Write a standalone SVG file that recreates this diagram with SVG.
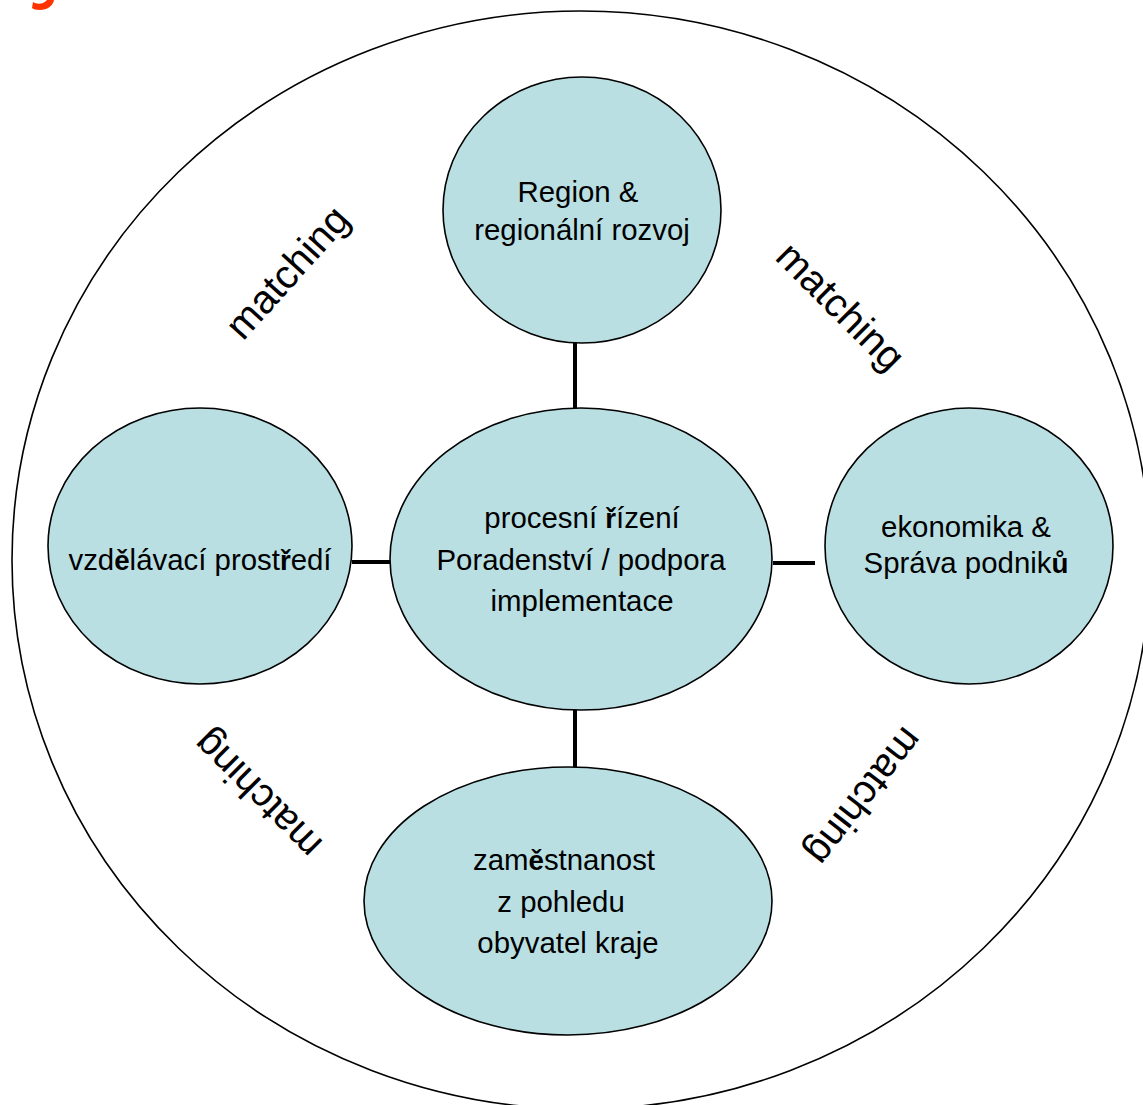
<svg xmlns="http://www.w3.org/2000/svg" width="1143" height="1105" viewBox="0 0 1143 1105">
<style>
.node{fill:#B9DFE3;stroke:#000;stroke-width:1.6}
.outer{fill:none;stroke:#000;stroke-width:1.6}
.conn line{stroke:#000;stroke-width:4}
.t{font-family:"Liberation Sans Narrow","Arial Narrow","Liberation Sans",Arial,sans-serif;font-size:35px;fill:#000;text-anchor:middle}
.b{font-family:"Liberation Sans",Arial,sans-serif;font-weight:bold;font-size:33px}
.m{font-family:"Liberation Sans",Arial,sans-serif;font-size:40px;fill:#000;text-anchor:middle}
</style>
<rect width="1143" height="1105" fill="#fff"/>
<path d="M47 0 L54 0 C53 6 47 10 40 10 C36 10 33 9 32 8 L33 2 C36 4 40 4 43 3 C45 2 46 1 47 0 Z" fill="#FF3300"/>
<ellipse class="outer" cx="581" cy="560" rx="569" ry="549"/>
<g id="connectors" class="conn">
<line x1="575" y1="342" x2="575" y2="409"/>
<line x1="352" y1="562" x2="391" y2="562"/>
<line x1="773" y1="563" x2="815" y2="563"/>
<line x1="575" y1="709" x2="575" y2="767"/>
</g>
<g id="node-region">
<ellipse class="node" cx="582" cy="210" rx="139" ry="133"/>
<text class="t" transform="matrix(0.84 0 0 0.85 0 0)"><tspan x="688.1" y="237.6">Region &amp;</tspan><tspan x="692.9" y="282.4">regionální rozvoj</tspan></text>
</g>
<g id="node-center">
<ellipse class="node" cx="581" cy="559" rx="191" ry="151"/>
<text class="t" transform="matrix(0.84 0 0 0.85 0 0)"><tspan x="692.9" y="621.2">procesní <tspan class="b">ř</tspan>ízení</tspan><tspan x="691.7" y="670.6">Poradenství / podpora</tspan><tspan x="692.9" y="718.8">implementace</tspan></text>
</g>
<g id="node-vzdelavani">
<ellipse class="node" cx="200" cy="546" rx="152" ry="138"/>
<text class="t" transform="matrix(0.84 0 0 0.85 0 0)"><tspan x="238.1" y="670.6">vzd<tspan class="b">ě</tspan>lávací prost<tspan class="b">ř</tspan>edí</tspan></text>
</g>
<g id="node-ekonomika">
<ellipse class="node" cx="969" cy="546" rx="144" ry="138"/>
<text class="t" transform="matrix(0.84 0 0 0.85 0 0)"><tspan x="1150" y="631.8">ekonomika &amp;</tspan><tspan x="1150" y="674.1">Správa podnik<tspan class="b">ů</tspan></tspan></text>
</g>
<g id="node-zamestnanost">
<ellipse class="node" cx="568" cy="901" rx="204" ry="134"/>
<text class="t" transform="matrix(0.84 0 0 0.85 0 0)"><tspan x="671.4" y="1023.5">zam<tspan class="b">ě</tspan>stnanost</tspan><tspan x="667.9" y="1072.9">z pohledu</tspan><tspan x="676.2" y="1121.2">obyvatel kraje</tspan></text>
</g>
<g id="labels">
<text class="m" transform="translate(287,272) rotate(-48)" y="14">matching</text>
<text class="m" transform="translate(841,306) rotate(45)" y="14">matching</text>
<text class="m" transform="translate(257,795) rotate(-135)" y="14">matching</text>
<text class="m" transform="translate(865,797) rotate(128)" y="14">matching</text>
</g>
</svg>
